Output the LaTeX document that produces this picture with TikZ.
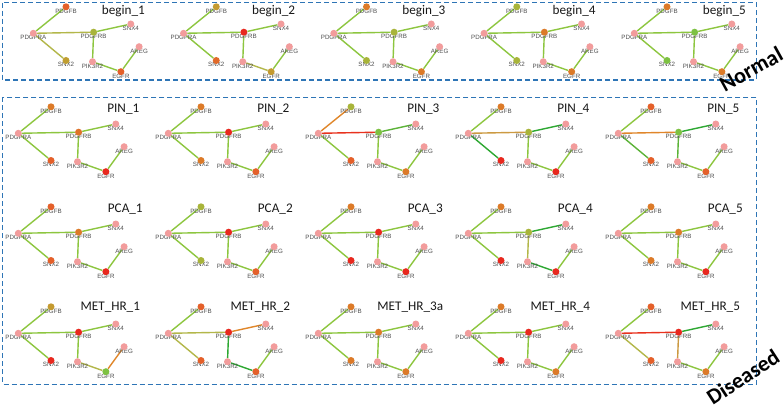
\documentclass[tikz,border=0pt]{standalone}
\usepackage{fontspec}
\setmainfont{Carlito}
\newfontfamily\labfont{Liberation Sans}
\definecolor{pinkc}{HTML}{F29C9C}
\definecolor{labc}{HTML}{505050}
\definecolor{boxc}{HTML}{2E75B6}
% edge colours
\definecolor{eyg}{HTML}{8DC63F}
\definecolor{edg}{HTML}{2EA832}
\definecolor{emg}{HTML}{5CB338}
\definecolor{eol}{HTML}{B3B74A}
\definecolor{eor}{HTML}{E0862A}
\definecolor{ered}{HTML}{E8321E}
\definecolor{etan}{HTML}{CC9A42}
% node colours
\definecolor{cred}{HTML}{E8281E}
\definecolor{corr}{HTML}{E4602A}
\definecolor{corg}{HTML}{DC7A28}
\definecolor{cgld}{HTML}{C49A30}
\definecolor{colv}{HTML}{A8B43A}
\definecolor{cgrn}{HTML}{7DC142}
\pgfdeclarelayer{bglayer}
\pgfdeclarelayer{edgelayer}
\pgfdeclarelayer{labellayer}
\pgfsetlayers{bglayer,edgelayer,labellayer,main}
\tikzset{
  gnode/.style={circle, inner sep=0pt, minimum size=7pt, fill=pinkc},
  glab/.style={font=\labfont\fontsize{6.2}{6.2}\selectfont, text=labc, inner sep=0pt},
  gedge/.style={line width=1.4pt, eyg},
  ttl/.style={font=\fontsize{13.2}{13.2}\selectfont, text=black!90, anchor=base, inner sep=0pt},
  grpbox/.style={draw=boxc, line width=1.3pt, dash pattern=on 5pt off 3pt},
  grplab/.style={font=\bfseries\fontsize{22}{22}\selectfont, inner sep=0pt},
  nB/.style={}, nRB/.style={}, nS2/.style={}, nE/.style={},
  eB/.style={}, eRB/.style={}, eS2/.style={}, eS4/.style={}, eP/.style={}, ePE/.style={}, eAE/.style={},
}
% #1 x, #2 y (PDGFRA), #3 prefix, #4 title, #5 title dx, #6 title dy, #7 styles
\newcommand\netpanel[7]{%
\begin{scope}[shift={(#1,#2)},#7]
  \node[gnode,nB] (#3B) at (32.7,-26.5) {};
  \node[gnode] (#3RA) at (0,0) {};
  \node[gnode,nRB] (#3RB) at (60.3,-1.1) {};
  \node[gnode] (#3S4) at (97.5,-9.3) {};
  \node[gnode,nS2] (#3S2) at (32.7,27.2) {};
  \node[gnode] (#3P) at (59.2,28.4) {};
  \node[gnode] (#3A) at (105.8,13.4) {};
  \node[gnode,nE] (#3E) at (87.6,38.4) {};
  \begin{pgfonlayer}{labellayer}
    \node[glab] (#3Bl) at (32.7,-22.2) {PDGFB};
    \node[glab] (#3RAl) at (0,4.3) {PDGFRA};
    \node[glab] (#3RBl) at (60.3,3.2) {PDGFRB};
    \node[glab] (#3S4l) at (97.5,-5.0) {SNX4};
    \node[glab] (#3S2l) at (32.7,31.5) {SNX2};
    \node[glab] (#3Pl) at (59.2,32.7) {PIK3R2};
    \node[glab] (#3Al) at (105.8,17.7) {AREG};
    \node[glab] (#3El) at (87.6,42.7) {EGFR};
  \end{pgfonlayer}
  \begin{pgfonlayer}{edgelayer}
    \draw[gedge,eB] (#3RA) -- (#3B);
    \draw[gedge,eRB] (#3RA) -- (#3RB);
    \draw[gedge,eS2] (#3RA) -- (#3S2);
    \draw[gedge,eS4] (#3RB) -- (#3S4);
    \draw[gedge,eP] (#3RB) -- (#3P);
    \draw[gedge,ePE] (#3P) -- (#3E);
    \draw[gedge,eAE] (#3A) -- (#3E);
  \end{pgfonlayer}
  \node[ttl] (#3T) at (#5,#6) {#4};
\end{scope}}
\begin{document}
\begin{tikzpicture}[x=1pt,y=-1pt]
\useasboundingbox (0,0) rectangle (784,409);
\begin{pgfonlayer}{bglayer}
\fill[white] (0,0) rectangle (784,409);
\end{pgfonlayer}
% group boxes
\draw[grpbox] (2.7,2.7) rectangle (756.5,80);
\draw[grpbox] (2.7,97.3) rectangle (756.5,384.3);
\node[grplab, rotate=29] (normal) at (751,69) {Normal};
\node[grplab, rotate=33] (diseased) at (743,377) {Diseased};
% begin row
\netpanel{33.3}{33.3}{ba}{begin\_1}{90}{-18.6}{nB/.style={fill=corr}, nRB/.style={fill=colv}, nS2/.style={fill=cgld!85!colv}, nE/.style={fill=corr}, eRB/.style={eol}, eS2/.style={eol}}
\netpanel{183.55}{33.3}{bb}{begin\_2}{90}{-18.6}{nB/.style={fill=cgld}, nRB/.style={fill=cred}, nS2/.style={fill=corr!60!corg}, nE/.style={fill=cgld}, ePE/.style={eol}}
\netpanel{333.8}{33.3}{bc}{begin\_3}{90}{-18.6}{nB/.style={fill=corg}, nRB/.style={fill=colv}, nS2/.style={fill=colv}, nE/.style={fill=corg}}
\netpanel{484.05}{33.3}{bd}{begin\_4}{90}{-18.6}{nB/.style={fill=colv}, nRB/.style={fill=corg}, nS2/.style={fill=colv}, nE/.style={fill=corg}}
\netpanel{634.3}{33.3}{be}{begin\_5}{90}{-18.6}{nB/.style={fill=corg}, nRB/.style={fill=cgrn}, nS2/.style={fill=cgrn}, nE/.style={fill=corg}}
% PIN row
\netpanel{18.3}{133.3}{pa}{PIN\_1}{105}{-20.6}{nB/.style={fill=corg}, nRB/.style={fill=corg!70!corr}, nS2/.style={fill=corr}, nE/.style={fill=cred}}
\netpanel{168.3}{133.3}{pb}{PIN\_2}{105}{-20.6}{nB/.style={fill=corg}, nRB/.style={fill=cred}, nS2/.style={fill=corg}, nE/.style={fill=corr}}
\netpanel{318.3}{133.3}{pc}{PIN\_3}{105}{-20.6}{nB/.style={fill=colv}, nRB/.style={fill=cgrn}, nS2/.style={fill=corr}, nE/.style={fill=corg}, eB/.style={eor}, eRB/.style={ered}, eS4/.style={emg}}
\netpanel{468.3}{133.3}{pd}{PIN\_4}{105}{-20.6}{nB/.style={fill=corg}, nRB/.style={fill=colv}, nS2/.style={fill=cred}, nE/.style={fill=cred}, eRB/.style={etan}, eS2/.style={edg}, eS4/.style={edg}}
\netpanel{618.3}{133.3}{pe}{PIN\_5}{105}{-20.6}{nB/.style={fill=corr}, nRB/.style={fill=cgrn}, nS2/.style={fill=corr}, nE/.style={fill=corr}, eRB/.style={eor}, eS4/.style={edg}, eP/.style={emg}, eS2/.style={emg}}
% PCA row
\netpanel{18.3}{233.3}{ca}{PCA\_1}{107}{-21.3}{nB/.style={fill=corr}, nRB/.style={fill=corg}, nS2/.style={fill=corr}, nE/.style={fill=cred}}
\netpanel{168.3}{233.3}{cb}{PCA\_2}{107}{-21.3}{nB/.style={fill=colv}, nRB/.style={fill=cred}, nS2/.style={fill=colv}, nE/.style={fill=corr}}
\netpanel{318.3}{233.3}{cc}{PCA\_3}{107}{-21.3}{nB/.style={fill=corg}, nRB/.style={fill=cred}, nS2/.style={fill=cred}, nE/.style={fill=cred}}
\netpanel{468.3}{233.3}{cd}{PCA\_4}{107}{-21.3}{nB/.style={fill=corg}, nRB/.style={fill=colv}, nS2/.style={fill=cred}, nE/.style={fill=cred}, eS4/.style={edg}, ePE/.style={edg}, eP/.style={eol}}
\netpanel{618.3}{233.3}{ce}{PCA\_5}{107}{-21.3}{nB/.style={fill=corg}, nRB/.style={fill=corg}, nS2/.style={fill=corg}, nE/.style={fill=cred}}
% MET_HR row
\netpanel{18.3}{333.3}{ma}{MET\_HR\_1}{92}{-22.6}{nB/.style={fill=cgld}, nRB/.style={fill=cred}, nS2/.style={fill=cred}, nE/.style={fill=cgrn}, eAE/.style={eor}, ePE/.style={eol}}
\netpanel{168.3}{333.3}{mb}{MET\_HR\_2}{92}{-22.6}{nB/.style={fill=corr}, nRB/.style={fill=cred}, nS2/.style={fill=corr}, nE/.style={fill=corr}, eRB/.style={eol}, eS4/.style={eor}, eP/.style={edg}, ePE/.style={edg}, eS2/.style={eol}}
\netpanel{318.3}{333.3}{mc}{MET\_HR\_3a}{92}{-22.6}{nB/.style={fill=corg}, nRB/.style={fill=corg}, nS2/.style={fill=corg}, nE/.style={fill=corg}}
\netpanel{468.3}{333.3}{md}{MET\_HR\_4}{92}{-22.6}{nB/.style={fill=corg}, nRB/.style={fill=cred}, nS2/.style={fill=cred}, nE/.style={fill=corg}}
\netpanel{618.3}{333.3}{me}{MET\_HR\_5}{92}{-22.6}{nB/.style={fill=corr}, nRB/.style={fill=cred}, nS2/.style={fill=corr}, nE/.style={fill=corg}, eRB/.style={ered}, eS4/.style={edg}, eP/.style={etan}, eS2/.style={eol}}
\end{tikzpicture}
\end{document}
